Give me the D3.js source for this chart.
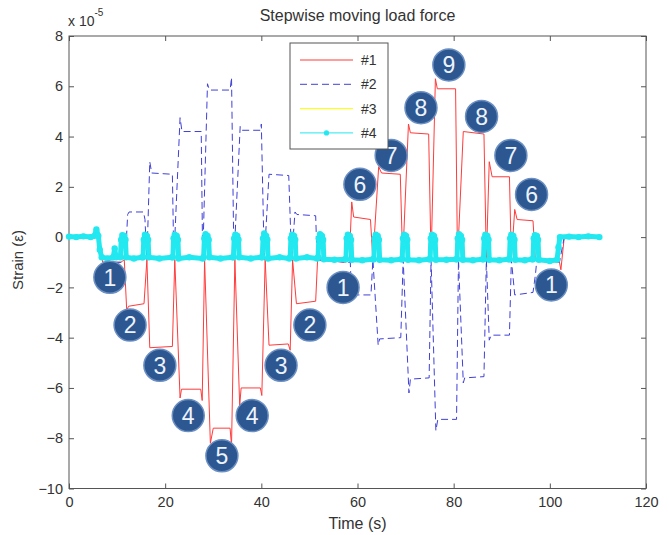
<!DOCTYPE html>
<html>
<head>
<meta charset="utf-8">
<script src="https://cdn.jsdelivr.net/npm/d3@7"></script>
<style>
	body { margin: 0; background: #fff; }
	svg text { font-family: "Liberation Sans", Arial, sans-serif; fill: #333; }
</style>
</head>
<body>
<svg id="chart" width="669" height="535"></svg>
<script>
'use strict';

// values in units of 1e-5
var xTicks = [0, 20, 40, 60, 80, 100, 120];
var yTicks = [-10, -8, -6, -4, -2, 0, 2, 4, 6, 8];
var seriesNames = ['#1', '#2', '#3', '#4'];

var gauge1 = [
	[0, 0], [6.2, 0], [7, -1.0], [10.8, -1.0], [11.5, -0.9], [12.0, -2.9], [12.4, -2.75], [15.6, -2.65],
	[16.2, -0.9], [16.8, -4.4], [21.5, -4.35], [22.0, -0.9], [23.1, -6.4], [23.4, -6.05], [27.4, -6.05],
	[27.7, -6.5], [28.2, -0.9], [29.4, -8.2], [30.0, -7.6], [33.5, -7.6], [33.8, -8.3], [34.5, -0.9],
	[35.5, -6.7], [35.8, -6.0], [39.8, -6.0], [40.1, -6.3], [40.8, -0.9], [41.6, -4.3], [45.6, -4.25],
	[46.0, -4.5], [46.5, -0.9], [47.3, -2.65], [51.3, -2.55], [51.7, -0.9], [57.5, -1.0], [58.3, -0.9],
	[58.8, 1.4], [59.2, 0.8], [62.7, 0.7], [63.2, -0.9], [64.4, 2.8], [65, 2.55], [68.9, 2.5], [69.4, -0.9],
	[70.6, 4.5], [71, 4.15], [74.8, 4.1], [75.3, -0.9], [76.2, 6.3], [76.6, 5.9], [80.4, 5.9], [80.8, -0.9],
	[82, 4.2], [86.3, 4.1], [86.8, -0.9], [87.4, 3.0], [88, 2.4], [91.6, 2.4], [92, -0.9], [92.7, 1.1],
	[93.2, 0.7], [96.5, 0.65], [97, -0.9], [102, -1.0], [102.3, -1.3], [103, 0], [110.3, 0]
];

var gauge2 = [
	[0, 0], [6, 0], [7, -1], [11, -1], [11.8, -0.6], [12.2, 0.9], [12.5, 1.0], [15.5, 1.0], [15.8, 0.7],
	[16.2, -0.9], [16.8, 3.0], [17.2, 2.55], [21.5, 2.5], [21.8, -0.9], [23.1, 4.75], [23.5, 4.2], [27.5, 4.2],
	[27.8, -0.9], [28.8, 6.1], [29.2, 5.85], [33.5, 5.85], [33.8, 6.35], [34.3, -0.9], [35.6, 4.4], [35.9, 4.25],
	[39.8, 4.25], [40, 4.5], [40.6, -0.9], [41.6, 2.5], [45.7, 2.45], [46.3, -0.9], [47.0, 1.0], [47.4, 0.9],
	[51.3, 0.85], [51.6, -0.9], [57.5, -1.0], [58.5, -1.0], [58.8, -2.5], [59.2, -2.3], [62.8, -2.3],
	[63.2, -0.9], [64.3, -4.3], [64.6, -4.05], [69, -4.0], [69.5, -0.9], [70.7, -6.2], [71, -5.65],
	[74.9, -5.6], [75.3, -0.9], [76.3, -7.7], [76.7, -7.25], [80.6, -7.25], [81, -0.9], [82, -5.8],
	[82.3, -5.6], [86.3, -5.55], [86.8, -0.9], [87.4, -4.1], [87.8, -3.9], [91.6, -3.9], [92, -0.9],
	[92.7, -2.3], [96.5, -2.2], [97, -1.5], [97.3, -0.9], [102, -1.0], [103, 0], [110.3, 0]
];

var gauge3 = [
	[0, 0], [6.3, 0], [7.0, -0.82], [30, -0.8], [53, -0.85], [57, -0.88], [80, -0.9], [101.6, -0.9],
	[102.1, 0], [110, 0]
];

var gauge4 = [
	[0, 0.02], [1.5, 0], [3, 0.03], [4.5, 0], [5.3, 0.05], [5.7, 0.3], [6.1, 0.05], [6.4, -0.5], [6.8, -0.8],
	[8, -0.85], [9.2, -0.8], [9.5, -0.45], [9.8, -0.8],
	[10.7, -0.8], [10.85, -0.1], [11.1, 0.08], [11.5, 0.05], [11.75, -0.1], [11.9, -0.8],
	[13.5, -0.85], [15.2, -0.8],
	[15.4, -0.8], [15.55, -0.1], [15.8, 0.1], [16.2, 0.05], [16.45, -0.1], [16.6, -0.8],
	[18.8, -0.85], [21.4, -0.8],
	[21.6, -0.8], [21.75, -0.05], [22.0, 0.1], [22.4, 0.05], [22.65, -0.1], [22.8, -0.85],
	[25, -0.8], [27.8, -0.85],
	[28.0, -0.8], [28.15, -0.05], [28.4, 0.12], [28.8, 0.05], [29.05, -0.1], [29.2, -0.8],
	[31.5, -0.85], [34.0, -0.8],
	[34.2, -0.8], [34.35, -0.05], [34.6, 0.1], [35.0, 0.05], [35.25, -0.1], [35.4, -0.8],
	[37.8, -0.85], [40.0, -0.8],
	[40.2, -0.8], [40.35, -0.05], [40.6, 0.15], [41.0, 0.05], [41.25, -0.1], [41.4, -0.85],
	[43.8, -0.8], [45.8, -0.85],
	[46.0, -0.8], [46.15, -0.05], [46.4, 0.1], [46.8, 0.05], [47.05, -0.1], [47.2, -0.85],
	[49.5, -0.8], [51.6, -0.85],
	[51.8, -0.8], [51.95, -0.05], [52.2, 0.12], [52.6, 0.05], [52.85, -0.1], [53.0, -0.88],
	[55.2, -0.9], [57.4, -0.88],
	[57.6, -0.88], [57.75, -0.05], [58.0, 0.1], [58.4, 0.05], [58.65, -0.1], [58.8, -0.9],
	[61, -0.92], [63.2, -0.88],
	[63.4, -0.88], [63.55, -0.05], [63.8, 0.1], [64.2, 0.05], [64.45, -0.1], [64.6, -0.9],
	[67, -0.92], [69.1, -0.88],
	[69.3, -0.88], [69.45, -0.05], [69.7, 0.1], [70.1, 0.05], [70.35, -0.1], [70.5, -0.9],
	[72.8, -0.92], [74.9, -0.88],
	[75.1, -0.88], [75.25, -0.05], [75.5, 0.1], [75.9, 0.05], [76.15, -0.1], [76.3, -0.9],
	[78.5, -0.9], [80.5, -0.88],
	[80.7, -0.88], [80.85, -0.05], [81.1, 0.12], [81.5, 0.05], [81.75, -0.1], [81.9, -0.9],
	[84, -0.92], [86.0, -0.88],
	[86.2, -0.88], [86.35, -0.05], [86.6, 0.1], [87.0, 0.05], [87.25, -0.1], [87.4, -0.9],
	[89.5, -0.92], [91.4, -0.88],
	[91.6, -0.88], [91.75, -0.05], [92.0, 0.1], [92.4, 0.05], [92.65, -0.1], [92.8, -0.9],
	[94.8, -0.92], [96.3, -0.88],
	[96.5, -0.88], [96.65, -0.05], [96.9, 0.08], [97.3, 0.05], [97.55, -0.1], [97.7, -0.9],
	[100, -0.95], [101.5, -0.9], [101.8, -0.4], [102.1, 0], [104, 0.02], [106, 0], [108, 0.03], [110.3, 0]
];

// load step markers: [time, strain, label]
var stepLabels = [
	[8.5, -1.6, '1'], [12.7, -3.5, '2'], [18.9, -5.1, '3'], [24.8, -7.1, '4'], [31.8, -8.7, '5'],
	[38.1, -7.1, '4'], [44.1, -5.1, '3'], [50.1, -3.5, '2'], [57.0, -2.0, '1'], [60.5, 2.1, '6'],
	[67.0, 3.25, '7'], [73.2, 5.15, '8'], [79.0, 6.85, '9'], [85.8, 4.8, '8'], [91.9, 3.25, '7'],
	[96.2, 1.7, '6'], [100.3, -1.9, '1']
];

var svg = d3.select('#chart');
var margin = { left: 69, top: 36, right: 23, bottom: 46.5 };
var width = 669 - margin.left - margin.right;
var height = 535 - margin.top - margin.bottom;

var x = d3.scaleLinear().domain([0, 120]).range([0, width]);
var y = d3.scaleLinear().domain([-10, 8]).range([height, 0]);

var g = svg.append('g')
	.attr('transform', 'translate(' + margin.left + ',' + margin.top + ')');

// axes, ticks inside on all four sides
var axisColor = '#555';
function styleAxis(sel) {
	sel.select('.domain').remove();
	sel.selectAll('.tick line').attr('stroke', axisColor);
	sel.selectAll('.tick text').style('font-size', '14.5px').attr('fill', '#333');
}

g.append('g')
	.attr('transform', 'translate(0,' + height + ')')
	.call(d3.axisBottom(x).tickValues(xTicks).tickSizeInner(-5).tickSizeOuter(0).tickPadding(8))
	.call(styleAxis);
g.append('g')
	.call(d3.axisTop(x).tickValues(xTicks).tickSizeInner(-5).tickSizeOuter(0).tickFormat(''))
	.call(styleAxis);
g.append('g')
	.call(d3.axisLeft(y).tickValues(yTicks).tickSizeInner(-5).tickSizeOuter(0).tickPadding(6))
	.call(styleAxis);
g.append('g')
	.attr('transform', 'translate(' + width + ',0)')
	.call(d3.axisRight(y).tickValues(yTicks).tickSizeInner(-5).tickSizeOuter(0).tickFormat(''))
	.call(styleAxis);

g.append('rect')
	.attr('width', width)
	.attr('height', height)
	.attr('fill', 'none')
	.attr('stroke', axisColor)
	.attr('stroke-width', 1);

var line = d3.line()
	.x(function(d) { return x(d[0]); })
	.y(function(d) { return y(d[1]); });

g.append('path')
	.datum(gauge1)
	.attr('d', line)
	.attr('fill', 'none')
	.attr('stroke', '#ff3b3b')
	.attr('stroke-width', 1);

g.append('path')
	.datum(gauge2)
	.attr('d', line)
	.attr('fill', 'none')
	.attr('stroke', '#4040d8')
	.attr('stroke-width', 1)
	.attr('stroke-dasharray', '7,4');

g.append('path')
	.datum(gauge3)
	.attr('d', line)
	.attr('fill', 'none')
	.attr('stroke', '#ffff00')
	.attr('stroke-width', 1);

g.append('path')
	.datum(gauge4)
	.attr('d', line)
	.attr('fill', 'none')
	.attr('stroke', '#22e8f0')
	.attr('stroke-width', 5)
	.attr('stroke-linejoin', 'round');

g.selectAll('.dot4')
	.data(gauge4)
	.enter()
	.append('circle')
	.attr('class', 'dot4')
	.attr('cx', function(d) { return x(d[0]); })
	.attr('cy', function(d) { return y(d[1]); })
	.attr('r', 3.2)
	.attr('fill', '#22e8f0');

// numbered load step badges
var badge = g.selectAll('.badge')
	.data(stepLabels)
	.enter()
	.append('g')
	.attr('class', 'badge')
	.attr('transform', function(d) { return 'translate(' + x(d[0]) + ',' + y(d[1]) + ')'; });

badge.append('circle')
	.attr('r', 16)
	.attr('fill', '#2c5791')
	.attr('stroke', '#6c8fc2')
	.attr('stroke-width', 1.5);

badge.append('text')
	.attr('text-anchor', 'middle')
	.attr('dy', '0.36em')
	.style('font-size', '23px')
	.style('fill', '#eef3fb')
	.text(function(d) { return d[2]; });

// legend
var legend = g.append('g')
	.attr('transform', 'translate(' + (290 - margin.left) + ',' + (43 - margin.top) + ')');

legend.append('rect')
	.attr('width', 98)
	.attr('height', 106)
	.attr('fill', '#fff')
	.attr('stroke', axisColor);

var legendStyles = [
	{ color: '#ff3b3b', dash: null, dot: false },
	{ color: '#4040d8', dash: '7,4', dot: false },
	{ color: '#ffff00', dash: null, dot: false },
	{ color: '#22e8f0', dash: null, dot: true }
];

var rows = legend.selectAll('.row')
	.data(seriesNames)
	.enter()
	.append('g')
	.attr('class', 'row')
	.attr('transform', function(d, i) { return 'translate(0,' + (17 + i * 24.3) + ')'; });

rows.append('line')
	.attr('x1', 10)
	.attr('x2', 63)
	.attr('stroke', function(d, i) { return legendStyles[i].color; })
	.attr('stroke-dasharray', function(d, i) { return legendStyles[i].dash; })
	.attr('stroke-width', 1);

rows.filter(function(d, i) { return legendStyles[i].dot; })
	.append('circle')
	.attr('cx', 36.5)
	.attr('r', 2.6)
	.attr('fill', '#22e8f0');

rows.append('text')
	.attr('x', 71)
	.attr('dy', '0.36em')
	.style('font-size', '14px')
	.text(function(d) { return d; });

// titles
svg.append('text')
	.attr('x', margin.left + width / 2)
	.attr('y', 21)
	.attr('text-anchor', 'middle')
	.style('font-size', '16px')
	.text('Stepwise moving load force');

var expo = svg.append('text')
	.attr('x', 68)
	.attr('y', 26)
	.style('font-size', '14px');
expo.append('tspan').text('x 10');
expo.append('tspan')
	.attr('dy', -10)
	.style('font-size', '10px')
	.text('-5');

svg.append('text')
	.attr('x', margin.left + width / 2)
	.attr('y', 529)
	.attr('text-anchor', 'middle')
	.style('font-size', '16px')
	.text('Time (s)');

svg.append('text')
	.attr('transform', 'translate(23,260) rotate(-90)')
	.attr('text-anchor', 'middle')
	.style('font-size', '15px')
	.text('Strain (ε)');
</script>
</body>
</html>
